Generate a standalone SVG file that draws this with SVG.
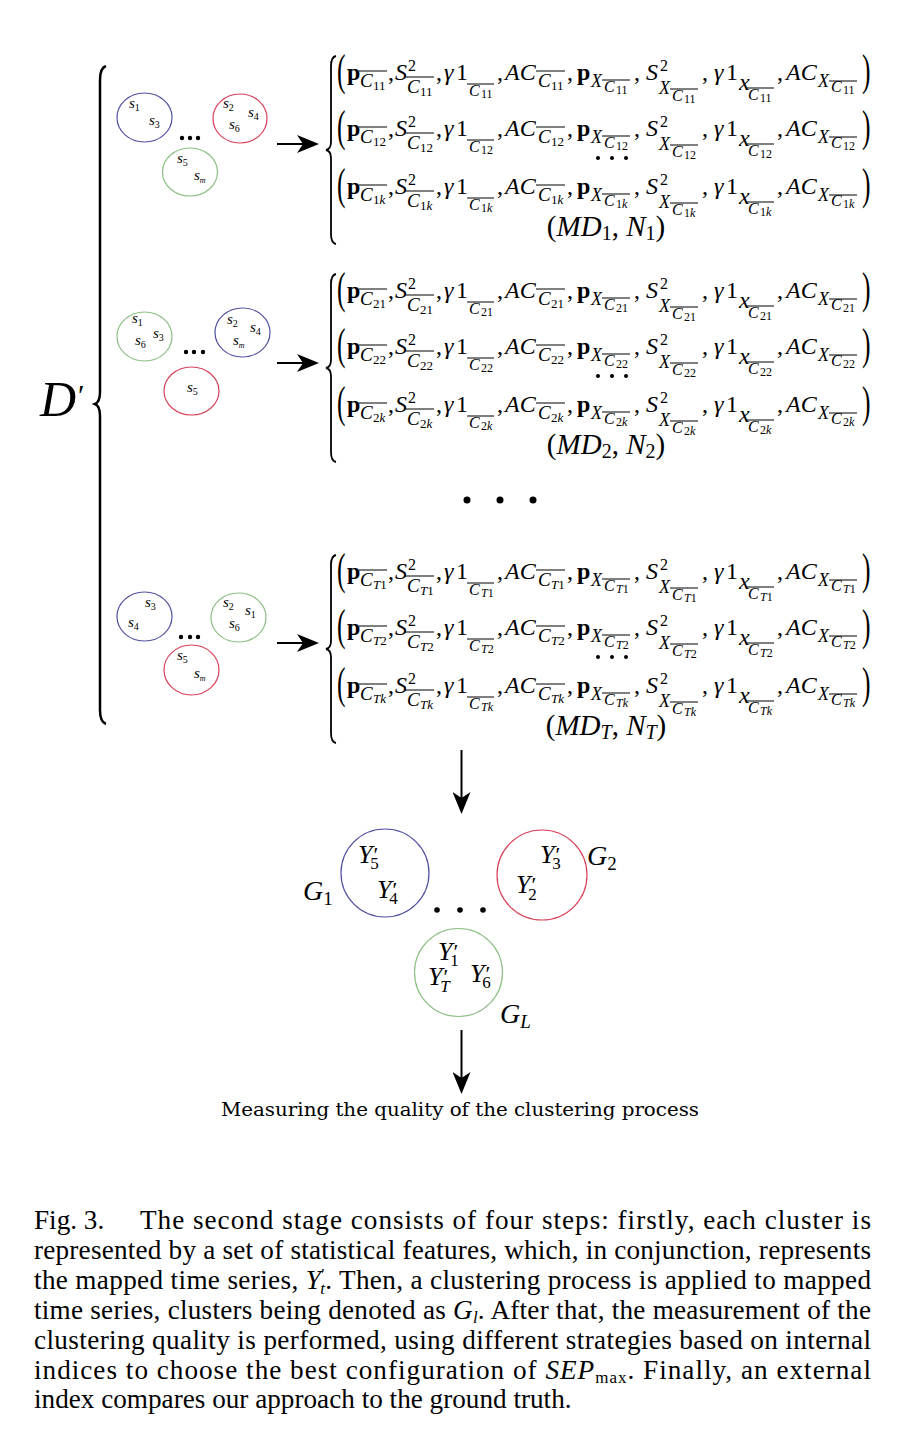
<svg xmlns="http://www.w3.org/2000/svg" xmlns:xlink="http://www.w3.org/1999/xlink" width="902" height="1448" viewBox="0 0 902 1448">
<defs>
<style>
.m{font-family:"Liberation Serif",serif;font-size:24px;fill:#000}
.it{font-style:italic}
.b{font-weight:bold}
.c17{font-style:italic;font-size:19px}
.c15{font-style:italic;font-size:16px}
.x18{font-style:italic;font-size:18px}
.s16{font-size:16px}
.i12{font-size:13px}
.i11{font-size:12px}
.par{font-size:30px}
.ol{stroke:#000;stroke-width:1}
.br{fill:none;stroke:#000;stroke-width:1.8}
.sl{font-family:"Liberation Serif",serif;font-style:italic;font-size:15px;fill:#000}
.sb{font-style:normal;font-size:10px}
.sm{font-size:8px}
.blue{fill:none;stroke:#5050a0;stroke-width:1.2}
.red{fill:none;stroke:#d8405a;stroke-width:1.2}
.green{fill:none;stroke:#8cbf84;stroke-width:1.2}
.y{font-family:"Liberation Serif",serif;font-style:italic;font-size:26px;fill:#000}
.pr{font-style:normal;font-size:22px}
.ys{font-style:normal;font-size:17px}
.g{font-family:"Liberation Serif",serif;font-style:italic;font-size:28px;fill:#000}
.gs{font-style:normal;font-size:19px}
.cap{font-family:"Liberation Serif",serif;font-size:27.2px;fill:#000}
.con{stroke:#000;stroke-width:2;fill:none}
.ital{font-style:italic}
.md{font-size:29px}
.mds{font-size:20px}
</style>
<marker id="ah" viewBox="0 0 22 18" refX="8" refY="9" markerWidth="22" markerHeight="18" markerUnits="userSpaceOnUse" orient="auto">
<path d="M0,0 L22,9 L0,18 L6,9 z" fill="#000"/>
</marker>
<g id="rowT">
<text class="m par" transform="translate(337,5) scale(0.85,1.5)">(</text>
<text class="m b" x="347" y="0">p</text>
<text class="m c17" x="360" y="7">C</text>
<line class="ol" x1="359" y1="-9" x2="387" y2="-9"/>
<text class="m" x="388" y="0">,</text>
<text class="m it" x="395" y="0">S</text>
<text class="m s16" x="408" y="-9">2</text>
<text class="m c17" x="407" y="13">C</text>
<line class="ol" x1="405" y1="-3" x2="434" y2="-3"/>
<text class="m" x="436" y="0">,</text>
<text class="m it" x="444" y="0">γ</text>
<text class="m" x="456" y="0">1</text>
<text class="m c15" x="469" y="16">C</text>
<line class="ol" x1="467" y1="4" x2="494" y2="4"/>
<text class="m" x="497" y="0">,</text>
<text class="m it" x="505" y="0">AC</text>
<text class="m c17" x="538" y="7">C</text>
<line class="ol" x1="536" y1="-9" x2="565" y2="-9"/>
<text class="m" x="567" y="0">,</text>
<text class="m b" x="577" y="0">p</text>
<text class="m x18" x="591" y="7">X</text>
<text class="m c15" x="604" y="12">C</text>
<line class="ol" x1="602" y1="0" x2="630" y2="0"/>
<text class="m" x="634" y="0">,</text>
<text class="m it" x="646" y="0">S</text>
<text class="m s16" x="660" y="-9">2</text>
<text class="m x18" x="659" y="14">X</text>
<text class="m c15" x="672" y="21">C</text>
<line class="ol" x1="670" y1="9" x2="698" y2="9"/>
<text class="m" x="702" y="0">,</text>
<text class="m it" x="714" y="0">γ</text>
<text class="m" x="726" y="0">1</text>
<text class="m it" x="739" y="10" font-size="16">x</text>
<text class="m c15" x="748" y="20">C</text>
<line class="ol" x1="746" y1="8" x2="774" y2="8"/>
<text class="m" x="777" y="0">,</text>
<text class="m it" x="786" y="0">AC</text>
<text class="m x18" x="818" y="7">X</text>
<text class="m c15" x="831" y="12">C</text>
<line class="ol" x1="829" y1="1" x2="857" y2="1"/>
<text class="m par" transform="translate(862,5) scale(0.85,1.5)">)</text>
</g>
<path id="fbrace" class="br" d="M336,56 Q331,57 331,66 L331,142 Q331,149 326,150 Q331,151 331,158 L331,234 Q331,243 336,244"/>
<g id="fdots"><circle cx="598" cy="158" r="2"/><circle cx="612" cy="158" r="2"/><circle cx="626" cy="158" r="2"/></g>
</defs>
<rect width="902" height="1448" fill="#fff"/>

<g id="d-prime">
<path d="M106,66 Q100,68 100,80 L100,392 Q100,402 95,404 Q100,406 100,416 L100,710 Q100,722 106,724" fill="none" stroke="#000" stroke-width="2.5"/>
<text x="40" y="416" font-family="Liberation Serif, serif" font-style="italic" font-size="50">D<tspan font-style="normal" font-size="30" dx="2" dy="-11">′</tspan></text>
</g>

<!-- block 1 clusters -->
<g id="b1-c1"><ellipse class="blue" cx="144.5" cy="117.5" rx="27.5" ry="24.5"/>
<text class="sl" x="129" y="108">s<tspan class="sb" dy="3">1</tspan></text>
<text class="sl" x="149" y="125">s<tspan class="sb" dy="3">3</tspan></text></g>
<g id="b1-c2"><ellipse class="red" cx="240" cy="118.5" rx="27" ry="24.5"/>
<text class="sl" x="223" y="108">s<tspan class="sb" dy="3">2</tspan></text>
<text class="sl" x="248" y="117">s<tspan class="sb" dy="3">4</tspan></text>
<text class="sl" x="229" y="129">s<tspan class="sb" dy="3">6</tspan></text></g>
<g id="b1-c3"><ellipse class="green" cx="190" cy="172" rx="27.5" ry="24"/>
<text class="sl" x="177" y="163">s<tspan class="sb" dy="3">5</tspan></text>
<text class="sl" x="194" y="180">s<tspan class="sm" dy="3">m</tspan></text></g>
<g id="b1-dots"><circle cx="182" cy="138" r="2.2"/><circle cx="190" cy="138" r="2.2"/><circle cx="198" cy="138" r="2.2"/></g>

<!-- block 2 clusters -->
<g id="b2-c1"><ellipse class="green" cx="144.5" cy="336.5" rx="27.5" ry="24.5"/>
<text class="sl" x="132" y="323">s<tspan class="sb" dy="3">1</tspan></text>
<text class="sl" x="153" y="338">s<tspan class="sb" dy="3">3</tspan></text>
<text class="sl" x="135" y="345">s<tspan class="sb" dy="3">6</tspan></text></g>
<g id="b2-c2"><ellipse class="blue" cx="242.5" cy="332.5" rx="27.5" ry="24.5"/>
<text class="sl" x="227" y="324">s<tspan class="sb" dy="3">2</tspan></text>
<text class="sl" x="250" y="332">s<tspan class="sb" dy="3">4</tspan></text>
<text class="sl" x="233" y="345">s<tspan class="sm" dy="3">m</tspan></text></g>
<g id="b2-c3"><ellipse class="red" cx="191.5" cy="391" rx="27.5" ry="24"/>
<text class="sl" x="187" y="392">s<tspan class="sb" dy="3">5</tspan></text></g>
<g id="b2-dots"><circle cx="186" cy="352" r="2.2"/><circle cx="194" cy="352" r="2.2"/><circle cx="203" cy="352" r="2.2"/></g>

<!-- block 3 clusters -->
<g id="b3-c1"><ellipse class="blue" cx="144.5" cy="616.5" rx="27.5" ry="24.5"/>
<text class="sl" x="145" y="607">s<tspan class="sb" dy="3">3</tspan></text>
<text class="sl" x="128" y="627">s<tspan class="sb" dy="3">4</tspan></text></g>
<g id="b3-c2"><ellipse class="green" cx="238.5" cy="617.5" rx="27.5" ry="24.5"/>
<text class="sl" x="223" y="607">s<tspan class="sb" dy="3">2</tspan></text>
<text class="sl" x="245" y="615">s<tspan class="sb" dy="3">1</tspan></text>
<text class="sl" x="229" y="628">s<tspan class="sb" dy="3">6</tspan></text></g>
<g id="b3-c3"><ellipse class="red" cx="191.5" cy="670" rx="27.5" ry="25"/>
<text class="sl" x="177" y="660">s<tspan class="sb" dy="3">5</tspan></text>
<text class="sl" x="194" y="678">s<tspan class="sm" dy="3">m</tspan></text></g>
<g id="b3-dots"><circle cx="181" cy="637" r="2.2"/><circle cx="190" cy="637" r="2.2"/><circle cx="198" cy="637" r="2.2"/></g>

<!-- formula block 1 -->
<g id="features-1">
<use xlink:href="#fbrace"/>
<g transform="translate(0,80)"><use xlink:href="#rowT"/>
<text class="m"><tspan class="i12" x="373" y="10">11</tspan><tspan class="i12" x="420" y="16">11</tspan><tspan class="i11" x="481" y="18">11</tspan><tspan class="i12" x="551" y="10">11</tspan><tspan class="i11" x="616" y="14">11</tspan><tspan class="i11" x="684" y="23">11</tspan><tspan class="i11" x="760" y="22">11</tspan><tspan class="i11" x="843" y="14">11</tspan></text></g>
<g transform="translate(0,136)"><use xlink:href="#rowT"/>
<text class="m"><tspan class="i12" x="373" y="10">12</tspan><tspan class="i12" x="420" y="16">12</tspan><tspan class="i11" x="481" y="18">12</tspan><tspan class="i12" x="551" y="10">12</tspan><tspan class="i11" x="616" y="14">12</tspan><tspan class="i11" x="684" y="23">12</tspan><tspan class="i11" x="760" y="22">12</tspan><tspan class="i11" x="843" y="14">12</tspan></text></g>
<use xlink:href="#fdots"/>
<g transform="translate(0,194)"><use xlink:href="#rowT"/>
<text class="m"><tspan class="i12" x="373" y="10">1<tspan class="it">k</tspan></tspan><tspan class="i12" x="420" y="16">1<tspan class="it">k</tspan></tspan><tspan class="i11" x="481" y="18">1<tspan class="it">k</tspan></tspan><tspan class="i12" x="551" y="10">1<tspan class="it">k</tspan></tspan><tspan class="i11" x="616" y="14">1<tspan class="it">k</tspan></tspan><tspan class="i11" x="684" y="23">1<tspan class="it">k</tspan></tspan><tspan class="i11" x="760" y="22">1<tspan class="it">k</tspan></tspan><tspan class="i11" x="843" y="14">1<tspan class="it">k</tspan></tspan></text></g>
<text class="m md" x="606" y="236" text-anchor="middle">(<tspan class="it">MD</tspan><tspan class="mds" dy="4">1</tspan><tspan dy="-4">, </tspan><tspan class="it">N</tspan><tspan class="mds" dy="4">1</tspan><tspan dy="-4">)</tspan></text>
</g>

<!-- formula block 2 -->
<g id="features-2" transform="translate(0,218)">
<use xlink:href="#fbrace"/>
<g transform="translate(0,80)"><use xlink:href="#rowT"/>
<text class="m"><tspan class="i12" x="373" y="10">21</tspan><tspan class="i12" x="420" y="16">21</tspan><tspan class="i11" x="481" y="18">21</tspan><tspan class="i12" x="551" y="10">21</tspan><tspan class="i11" x="616" y="14">21</tspan><tspan class="i11" x="684" y="23">21</tspan><tspan class="i11" x="760" y="22">21</tspan><tspan class="i11" x="843" y="14">21</tspan></text></g>
<g transform="translate(0,136)"><use xlink:href="#rowT"/>
<text class="m"><tspan class="i12" x="373" y="10">22</tspan><tspan class="i12" x="420" y="16">22</tspan><tspan class="i11" x="481" y="18">22</tspan><tspan class="i12" x="551" y="10">22</tspan><tspan class="i11" x="616" y="14">22</tspan><tspan class="i11" x="684" y="23">22</tspan><tspan class="i11" x="760" y="22">22</tspan><tspan class="i11" x="843" y="14">22</tspan></text></g>
<use xlink:href="#fdots"/>
<g transform="translate(0,194)"><use xlink:href="#rowT"/>
<text class="m"><tspan class="i12" x="373" y="10">2<tspan class="it">k</tspan></tspan><tspan class="i12" x="420" y="16">2<tspan class="it">k</tspan></tspan><tspan class="i11" x="481" y="18">2<tspan class="it">k</tspan></tspan><tspan class="i12" x="551" y="10">2<tspan class="it">k</tspan></tspan><tspan class="i11" x="616" y="14">2<tspan class="it">k</tspan></tspan><tspan class="i11" x="684" y="23">2<tspan class="it">k</tspan></tspan><tspan class="i11" x="760" y="22">2<tspan class="it">k</tspan></tspan><tspan class="i11" x="843" y="14">2<tspan class="it">k</tspan></tspan></text></g>
<text class="m md" x="606" y="236" text-anchor="middle">(<tspan class="it">MD</tspan><tspan class="mds" dy="4">2</tspan><tspan dy="-4">, </tspan><tspan class="it">N</tspan><tspan class="mds" dy="4">2</tspan><tspan dy="-4">)</tspan></text>
</g>

<g id="big-dots"><circle cx="467" cy="500" r="3.5"/><circle cx="500" cy="500" r="3.5"/><circle cx="533" cy="500" r="3.5"/></g>

<!-- formula block 3 -->
<g id="features-T" transform="translate(0,499)">
<use xlink:href="#fbrace"/>
<g transform="translate(0,80)"><use xlink:href="#rowT"/>
<text class="m"><tspan class="i12" x="373" y="10"><tspan class="it">T</tspan>1</tspan><tspan class="i12" x="420" y="16"><tspan class="it">T</tspan>1</tspan><tspan class="i11" x="481" y="18"><tspan class="it">T</tspan>1</tspan><tspan class="i12" x="551" y="10"><tspan class="it">T</tspan>1</tspan><tspan class="i11" x="616" y="14"><tspan class="it">T</tspan>1</tspan><tspan class="i11" x="684" y="23"><tspan class="it">T</tspan>1</tspan><tspan class="i11" x="760" y="22"><tspan class="it">T</tspan>1</tspan><tspan class="i11" x="843" y="14"><tspan class="it">T</tspan>1</tspan></text></g>
<g transform="translate(0,136)"><use xlink:href="#rowT"/>
<text class="m"><tspan class="i12" x="373" y="10"><tspan class="it">T</tspan>2</tspan><tspan class="i12" x="420" y="16"><tspan class="it">T</tspan>2</tspan><tspan class="i11" x="481" y="18"><tspan class="it">T</tspan>2</tspan><tspan class="i12" x="551" y="10"><tspan class="it">T</tspan>2</tspan><tspan class="i11" x="616" y="14"><tspan class="it">T</tspan>2</tspan><tspan class="i11" x="684" y="23"><tspan class="it">T</tspan>2</tspan><tspan class="i11" x="760" y="22"><tspan class="it">T</tspan>2</tspan><tspan class="i11" x="843" y="14"><tspan class="it">T</tspan>2</tspan></text></g>
<use xlink:href="#fdots"/>
<g transform="translate(0,194)"><use xlink:href="#rowT"/>
<text class="m it"><tspan class="i12" x="373" y="10">Tk</tspan><tspan class="i12" x="420" y="16">Tk</tspan><tspan class="i11" x="481" y="18">Tk</tspan><tspan class="i12" x="551" y="10">Tk</tspan><tspan class="i11" x="616" y="14">Tk</tspan><tspan class="i11" x="684" y="23">Tk</tspan><tspan class="i11" x="760" y="22">Tk</tspan><tspan class="i11" x="843" y="14">Tk</tspan></text></g>
<text class="m md" x="606" y="236" text-anchor="middle">(<tspan class="it">MD</tspan><tspan class="mds it" dy="4">T</tspan><tspan dy="-4">, </tspan><tspan class="it">N</tspan><tspan class="mds it" dy="4">T</tspan><tspan dy="-4">)</tspan></text>
</g>

<!-- clusters G -->
<g id="G1"><circle class="blue" cx="385" cy="873" r="44"/>
<text class="y" x="358" y="863">Y<tspan class="pr" dx="1" dy="-1">′</tspan><tspan class="ys" dx="-8" dy="7">5</tspan></text>
<text class="y" x="377" y="898">Y<tspan class="pr" dx="1" dy="-1">′</tspan><tspan class="ys" dx="-8" dy="7">4</tspan></text>
<text class="g" x="303" y="900">G<tspan class="gs" dy="5">1</tspan></text></g>
<g id="G2"><circle class="red" cx="542" cy="875" r="45"/>
<text class="y" x="540" y="863">Y<tspan class="pr" dx="1" dy="-1">′</tspan><tspan class="ys" dx="-8" dy="7">3</tspan></text>
<text class="y" x="516" y="893">Y<tspan class="pr" dx="1" dy="-1">′</tspan><tspan class="ys" dx="-8" dy="8">2</tspan></text>
<text class="g" x="587" y="865">G<tspan class="gs" dy="5">2</tspan></text></g>
<g id="GL"><circle class="green" cx="458.5" cy="972.5" r="44"/>
<text class="y" x="438" y="960">Y<tspan class="pr" dx="1" dy="-1">′</tspan><tspan class="ys" dx="-8" dy="7">1</tspan></text>
<text class="y" x="428" y="985">Y<tspan class="pr" dx="1" dy="-1">′</tspan><tspan class="ys" style="font-style:italic" dx="-8" dy="8">T</tspan></text>
<text class="y" x="470" y="982">Y<tspan class="pr" dx="1" dy="-1">′</tspan><tspan class="ys" dx="-8" dy="7">6</tspan></text>
<text class="g" x="500" y="1023">G<tspan class="gs" style="font-style:italic" dy="5">L</tspan></text></g>
<g id="G-dots"><circle cx="437" cy="910" r="2.8"/><circle cx="460" cy="910" r="2.8"/><circle cx="483" cy="910" r="2.8"/></g>

<g id="measure"><text x="221" y="1116" font-family="DejaVu Serif, serif" font-size="18" textLength="478" lengthAdjust="spacingAndGlyphs">Measuring the quality of the clustering process</text></g>

<g id="connectors">
<line class="con" x1="277" y1="144" x2="305" y2="144" marker-end="url(#ah)"/>
<line class="con" x1="277" y1="363" x2="305" y2="363" marker-end="url(#ah)"/>
<line class="con" x1="277" y1="643" x2="305" y2="643" marker-end="url(#ah)"/>
<line class="con" x1="461.5" y1="750" x2="461.5" y2="800" marker-end="url(#ah)"/>
<line class="con" x1="461.5" y1="1030" x2="461.5" y2="1080" marker-end="url(#ah)"/>
</g>

<g id="caption">
<text class="cap" x="34" y="1229">Fig. 3.</text>
<text class="cap" x="140" y="1229" textLength="731" lengthAdjust="spacing">The second stage consists of four steps: firstly, each cluster is</text>
<text class="cap" x="34" y="1259" textLength="837" lengthAdjust="spacing">represented by a set of statistical features, which, in conjunction, represents</text>
<text class="cap" x="34" y="1289" textLength="837" lengthAdjust="spacing">the mapped time series, <tspan class="ital">Y</tspan><tspan font-size="17" dy="-9">′</tspan><tspan class="ital" font-size="17" dx="-5" dy="14">t</tspan><tspan dy="-5">. Then, a clustering process is applied to mapped</tspan></text>
<text class="cap" x="34" y="1319" textLength="837" lengthAdjust="spacing">time series, clusters being denoted as <tspan class="ital">G</tspan><tspan class="ital" font-size="17" dy="4">l</tspan><tspan dy="-4">. After that, the measurement of the</tspan></text>
<text class="cap" x="34" y="1349" textLength="837" lengthAdjust="spacing">clustering quality is performed, using different strategies based on internal</text>
<text class="cap" x="34" y="1379" textLength="837" lengthAdjust="spacing">indices to choose the best configuration of <tspan class="ital">SEP</tspan><tspan font-size="17" dy="4">max</tspan><tspan dy="-4">. Finally, an external</tspan></text>
<text class="cap" x="34" y="1408">index compares our approach to the ground truth.</text>
</g>
</svg>
